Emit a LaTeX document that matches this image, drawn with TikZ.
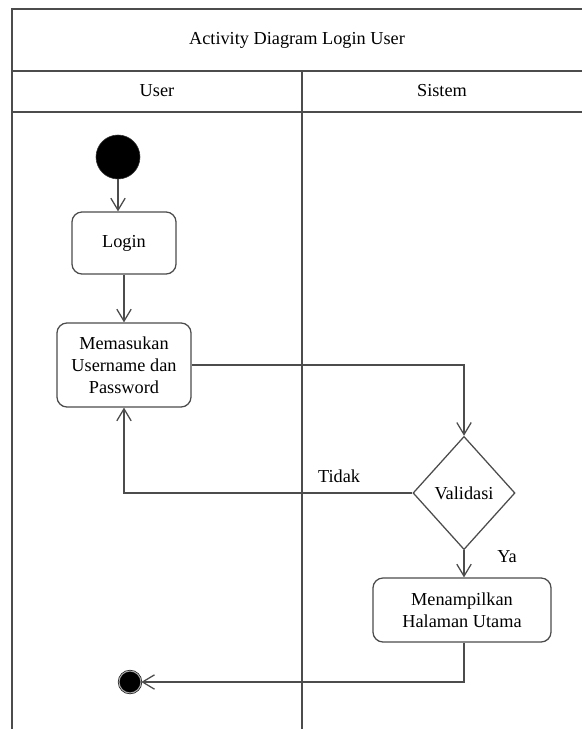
\documentclass[tikz,border=0pt]{standalone}
\usepackage{fontspec}
\setmainfont{Liberation Serif}
\usetikzlibrary{shapes.geometric,arrows.meta}

\tikzset{
  line/.style={draw=black!70, line width=0.9pt},
  flow/.style={line, -{Straight Barb[length=3mm,width=3.6mm]}},
  activity/.style={line, rectangle, rounded corners=0.25cm, align=center, inner sep=2pt, font=\fontsize{13}{15.5}\selectfont},
  decision/.style={line, diamond, inner sep=0pt, minimum width=2.55cm, minimum height=2.83cm, font=\fontsize{13}{15}\selectfont},
  initial/.style={circle, fill=black, draw=black!80, minimum size=1.1cm, inner sep=0pt},
  final/.style={circle, fill=black, draw=black, double=black!35, double distance=0.8pt, minimum size=0.55cm, inner sep=0pt},
  label text/.style={font=\fontsize{13}{15}\selectfont}
}

\begin{document}
\begin{tikzpicture}[x=0.025cm, y=-0.025cm]
\useasboundingbox (0,0) rectangle (582,729);
% swimlanes
\draw[line] (12,729) -- (12,9) -- (582,9);
\draw[line] (12,71) -- (582,71);
\draw[line] (12,112) -- (582,112);
\draw[line] (302,71) -- (302,729);
\node[label text] (title) at (297,40) {Activity Diagram Login User};
\node[label text] (laneuser) at (157,91) {User};
\node[label text] (lanesistem) at (442,91) {Sistem};

% activities
\node[initial] (start) at (118,157) {};
\node[activity, minimum width=2.6cm, minimum height=1.55cm] (login) at (124,243) {Login};
\node[activity, minimum width=3.35cm, minimum height=2.1cm] (input) at (124,365) {Memasukan\\Username dan\\Password};
\node[decision] (validasi) at (464,493) {Validasi};
\node[activity, minimum width=4.45cm, minimum height=1.6cm] (home) at (462,610) {Menampilkan\\Halaman Utama};
\node[final] (end) at (130,682) {};
\node[label text] (tidak) at (339,476) {Tidak};
\node[label text] (ya) at (507,557) {Ya};

% flows
\draw[flow] (start) -- (start |- login.north);
\draw[flow] (login) -- (input);
\draw[flow] (input.east) -| (validasi.north);
\draw[flow] (validasi.west) -| (input.south);
\draw[flow] (validasi) -- (validasi |- home.north);
\draw[flow] (home.south -| validasi) |- (end.east);
\end{tikzpicture}
\end{document}
